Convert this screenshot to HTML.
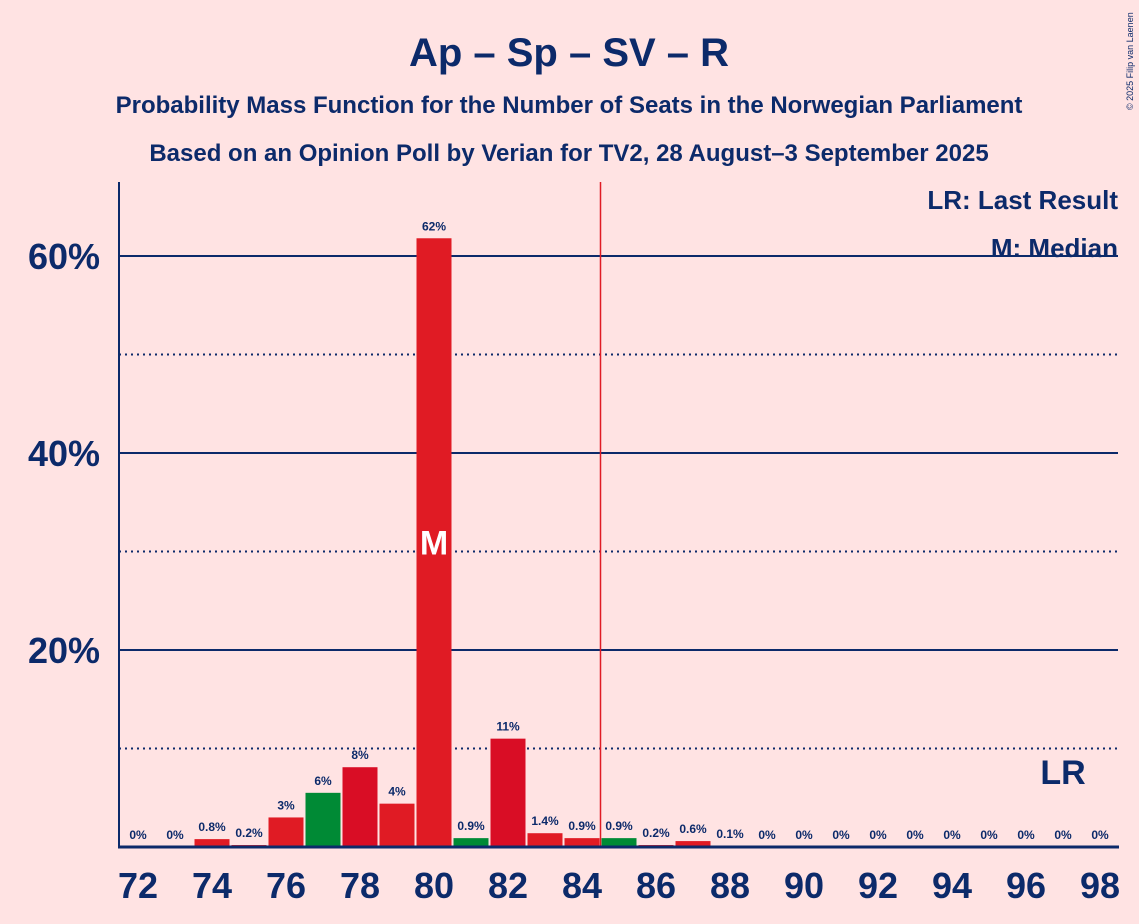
<!DOCTYPE html>
<html><head><meta charset="utf-8"><style>
body{margin:0;background:#ffe3e3;font-family:"Liberation Sans",sans-serif;}
svg{display:block}
</style></head><body>
<svg width="1139" height="924">
<rect width="1139" height="924" fill="#ffe3e3"/>
<text x="569" y="66" text-anchor="middle" font-size="40" font-weight="bold" fill="#0c2a6a">Ap – Sp – SV – R</text>
<text x="569" y="113" text-anchor="middle" font-size="24" font-weight="bold" fill="#0c2a6a">Probability Mass Function for the Number of Seats in the Norwegian Parliament</text>
<text x="569" y="161" text-anchor="middle" font-size="24" font-weight="bold" fill="#0c2a6a">Based on an Opinion Poll by Verian for TV2, 28 August–3 September 2025</text>
<text x="1133" y="110" font-size="9" fill="#0c2a6a" transform="rotate(-90 1133 110)">© 2025 Filip van Laenen</text>
<g id="grid"></g>
<g id="bars"></g>
<g id="labels"></g>
<line x1="119" y1="182" x2="119" y2="848" stroke="#0c2a6a" stroke-width="2"/>
<line x1="118" y1="847" x2="1119" y2="847" stroke="#0c2a6a" stroke-width="3"/>
<text x="1118" y="209" text-anchor="end" font-size="26" font-weight="bold" fill="#0c2a6a">LR: Last Result</text>
<text x="1118" y="257" text-anchor="end" font-size="26" font-weight="bold" fill="#0c2a6a">M: Median</text>
<g id="xt"></g>
</svg>
<script>
const seats=[72,73,74,75,76,77,78,79,80,81,82,83,84,85,86,87,88,89,90,91,92,93,94,95,96,97,98];
const probs=[0,0,0.8,0.2,3,5.5,8.1,4.4,61.8,0.9,11,1.4,0.9,0.9,0.2,0.6,0.1,0,0,0,0,0,0,0,0,0,0];
const probLabels=["0%","0%","0.8%","0.2%","3%","6%","8%","4%","62%","0.9%","11%","1.4%","0.9%","0.9%","0.2%","0.6%","0.1%","0%","0%","0%","0%","0%","0%","0%","0%","0%","0%"];
const yTicks=[20,40,60];
const yMinor=[10,30,50];
const greenSeats=[77,81,85];
const darkSeats=[78,82];
const median=80, lastResult=97, majority=84.5;
const ns="http://www.w3.org/2000/svg";
const X=s=>138+(s-72)*37;
const Y=v=>847-v*9.85;
function mk(t,a,p){const e=document.createElementNS(ns,t);for(const k in a)e.setAttribute(k,a[k]);p.appendChild(e);return e;}
const grid=document.getElementById('grid'),bars=document.getElementById('bars'),labels=document.getElementById('labels'),xt=document.getElementById('xt');
yMinor.forEach(v=>{const l=mk('line',{x1:119,x2:1118,y1:Y(v),y2:Y(v),stroke:'#0c2a6a','stroke-width':2,'stroke-dasharray':'2,4'},grid);

});
yTicks.forEach(v=>{const l=mk('line',{x1:119,x2:1118,y1:Y(v),y2:Y(v),stroke:'#0c2a6a','stroke-width':2},grid);


const t=mk('text',{x:100,y:Y(v)+13,'text-anchor':'end','font-size':36,'font-weight':'bold',fill:'#0c2a6a'},grid);t.textContent=v+'%';

});
seats.forEach((s,i)=>{const v=probs[i];
const col=greenSeats.includes(s)?'#008a35':(darkSeats.includes(s)?'#d90d25':'#e01b24');
if(v>0){const r=mk('rect',{x:X(s)-17.5,y:Y(v),width:35,height:847-Y(v),fill:col},bars);

}
const t=mk('text',{x:X(s),y:Y(v)-8,'text-anchor':'middle','font-size':12,'font-weight':'bold',fill:'#0c2a6a'},labels);t.textContent=probLabels[i];


if(s%2===0){const x=mk('text',{x:X(s),y:898,'text-anchor':'middle','font-size':36,'font-weight':'bold',fill:'#0c2a6a'},xt);x.textContent=s;

}
});
const mi=seats.indexOf(median);
const m=mk('text',{x:X(median),y:Y(probs[mi]/2)+12,'text-anchor':'middle','font-size':34,'font-weight':'bold',fill:'#fff'},labels);m.textContent='M';


const lr=mk('text',{x:X(lastResult),y:784,'text-anchor':'middle','font-size':34,'font-weight':'bold',fill:'#0c2a6a'},labels);lr.textContent='LR';


const ml=mk('line',{x1:X(majority),x2:X(majority),y1:182,y2:847,stroke:'#e01b24','stroke-width':1.5},labels);


</script>
</body></html>
